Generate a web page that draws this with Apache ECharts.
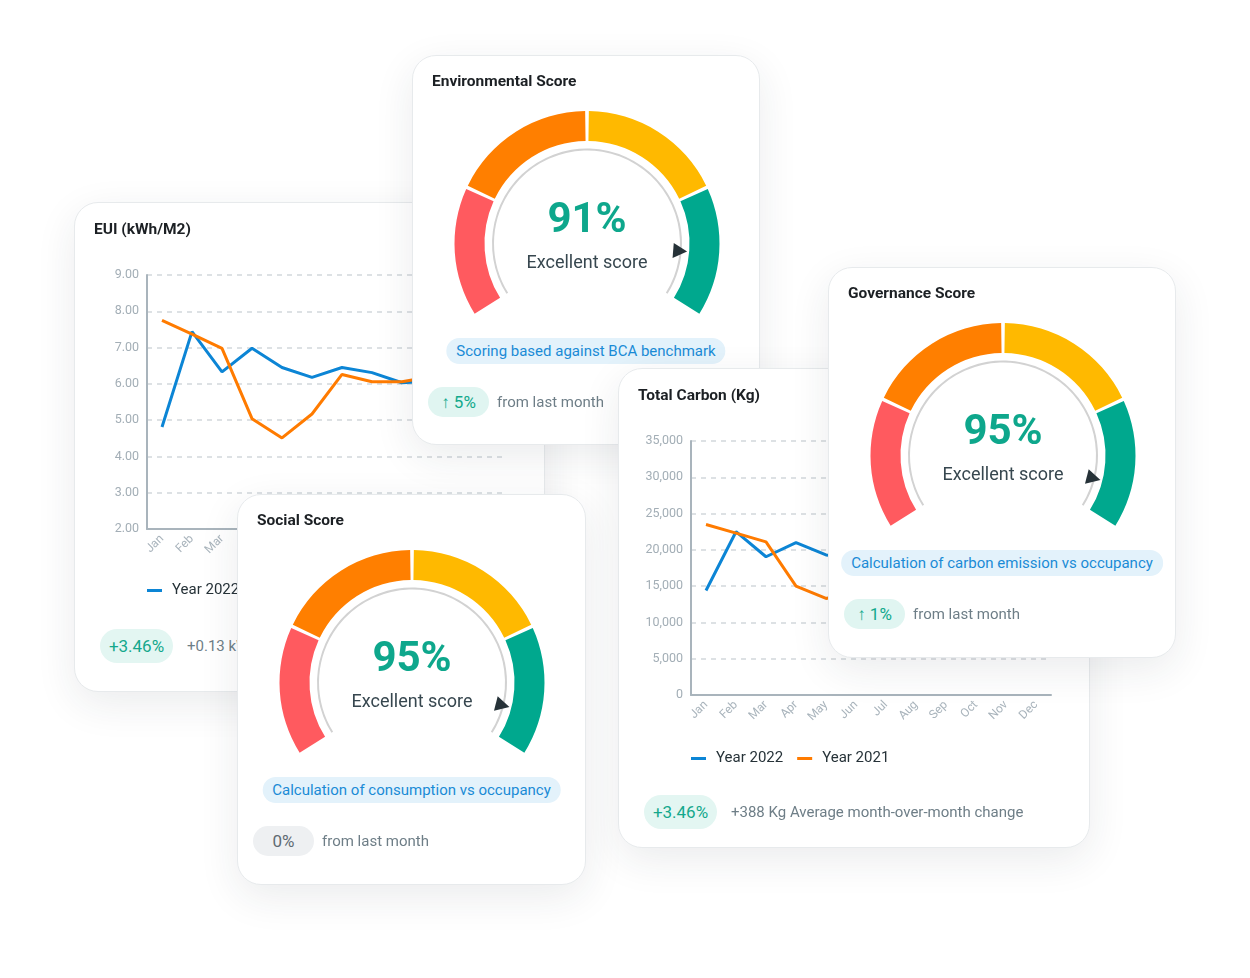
<!DOCTYPE html>
<html>
<head>
<meta charset="utf-8">
<script src="https://cdn.jsdelivr.net/npm/echarts@6/dist/echarts.min.js"></script>
<style>
  html, body { margin:0; padding:0; background:#ffffff; }
  body { width:1250px; height:978px; position:relative; overflow:hidden; font-family:Roboto, "Noto Sans", sans-serif; }
  .card { position:absolute; background:#fff; border:1px solid #e7eaec; border-radius:24px;
          box-shadow:0 12px 40px rgba(30,40,50,0.09); box-sizing:border-box; overflow:hidden; }
  .chart { position:absolute; left:0; top:0; }
  .chip { position:absolute; top:282px; left:50%; transform:translateX(-50%); height:26px; line-height:26px;
          padding:0 10px; border-radius:13px; background:#e3f2fb; color:#1a8bd6; font-size:15px; white-space:nowrap; }
  .pill { position:absolute; left:15px; top:331px; height:30px; line-height:30px; width:61px; text-align:center;
          border-radius:15px; background:#e0f5f1; color:#12a98c; font-size:17px; white-space:nowrap; }
  .pill.flat { background:#eef0f2; color:#5f6b72; }
  .note { position:absolute; left:84px; top:331px; line-height:30px; font-size:15px; color:#6e7e87; white-space:nowrap; }
  .fpill { position:absolute; left:25px; top:426px; height:34px; line-height:34px; width:73px; text-align:center;
           border-radius:17px; background:#e3f6f2; color:#14a88c; font-size:17px; }
  .fnote { position:absolute; left:112px; top:426px; line-height:34px; font-size:15px; color:#6e7e87; white-space:nowrap; }
</style>
</head>
<body>

<div class="card" id="card-eui" style="left:74px;top:202px;width:471px;height:490px;z-index:1">
  <div class="chart" id="c-eui" style="width:471px;height:420px"></div>
  <div class="fpill" id="eui-pill"></div>
  <div class="fnote" id="eui-note"></div>
</div>

<div class="card" id="card-env" style="left:412px;top:55px;width:348px;height:390px;z-index:2">
  <div class="chart" id="g-env" style="width:348px;height:320px"></div>
  <div class="chip" id="chip-env"></div>
  <div class="pill" id="pill-env"></div>
  <div class="note" id="note-env"></div>
</div>

<div class="card" id="card-carbon" style="left:618px;top:368px;width:472px;height:480px;z-index:3">
  <div class="chart" id="c-carbon" style="width:472px;height:420px"></div>
  <div class="fpill" id="carbon-pill"></div>
  <div class="fnote" id="carbon-note"></div>
</div>

<div class="card" id="card-gov" style="left:828px;top:267px;width:348px;height:391px;z-index:4">
  <div class="chart" id="g-gov" style="width:348px;height:320px"></div>
  <div class="chip" id="chip-gov"></div>
  <div class="pill" id="pill-gov"></div>
  <div class="note" id="note-gov"></div>
</div>

<div class="card" id="card-soc" style="left:237px;top:494px;width:349px;height:391px;z-index:3">
  <div class="chart" id="g-soc" style="width:349px;height:320px"></div>
  <div class="chip" id="chip-soc"></div>
  <div class="pill flat" id="pill-soc"></div>
  <div class="note" id="note-soc"></div>
</div>

<script>
// ---------- data ----------
const months = ['Jan','Feb','Mar','Apr','May','Jun','Jul','Aug','Sep','Oct','Nov','Dec'];
const legendNames = ['Year 2022', 'Year 2021'];

const euiYear2022 = [4.81, 7.44, 6.33, 6.98, 6.45, 6.18, 6.45, 6.31, 6.03, 6.08];
const euiYear2021 = [7.75, 7.37, 6.98, 5.04, 4.51, 5.17, 6.26, 6.06, 6.06, 6.20];
const euiYTicks = [2, 9, 1]; // min, max, step

const carbonYear2022 = [14400, 22500, 19050, 21000, 19300, 18900];
const carbonYear2021 = [23500, 22300, 21100, 15000, 13300, 14200];
const carbonYTicks = [0, 35000, 5000];

const lineTitles = ['EUI (kWh/M2)', 'Total Carbon (Kg)'];
const lineFooterPills = ['+3.46%', '+3.46%'];
const lineFooterNotes = ['+0.13 kWh/M2 Average month-over-month change', '+388 Kg Average month-over-month change'];

const scoreTitles = ['Environmental Score', 'Governance Score', 'Social Score'];
const scoreValues = [91, 95, 95];
const scoreLabels = ['Excellent score', 'Excellent score', 'Excellent score'];
const scoreChips = ['Scoring based against BCA benchmark', 'Calculation of carbon emission vs occupancy', 'Calculation of consumption vs occupancy'];
const scoreDeltas = ['\u2191 5%', '\u2191 1%', '0%'];
const scoreDeltaNotes = ['from last month', 'from last month', 'from last month'];
const bandStops = [0, 23.4, 50, 76.6, 100];

// ---------- styles ----------
const FONT = 'Roboto';
const BLUE = '#0c85d5', ORANGE = '#ff7b00';
const bandColors = ['#ff5a5f', '#ff7f00', '#ffb900', '#00a88e'];
const TEAL = '#0ea78c';

function lineOption(title, s2022, s2021, ticks, fmt, legendTop) {
  return {
    animation: false,
    title: { text: title, left: 14, top: 14,
      textStyle: { fontFamily: FONT, fontSize: 15.5, fontWeight: 'bold', color: '#1c2024' } },
    legend: { left: 67, top: legendTop, icon: 'rect', itemWidth: 15, itemHeight: 3, itemGap: 14,
      data: legendNames,
      textStyle: { fontFamily: FONT, fontSize: 15, color: '#263238', padding: [0, 0, 0, 5] } },
    grid: { left: 72, top: 72, width: 360, height: 254 },
    xAxis: { type: 'category', data: months, boundaryGap: true,
      axisLine: { lineStyle: { color: '#a9b4bc', width: 2 } },
      axisTick: { show: false },
      axisLabel: { rotate: 45, interval: 0, color: '#a9b4bc', fontFamily: FONT, fontSize: 12, margin: 8 } },
    yAxis: { type: 'value', min: ticks[0], max: ticks[1], interval: ticks[2],
      axisLine: { show: true, lineStyle: { color: '#a9b4bc', width: 2 } },
      axisTick: { show: false },
      axisLabel: { formatter: fmt, color: '#a3aeb6', fontFamily: FONT, fontSize: 12.5, margin: 8 },
      splitLine: { lineStyle: { type: [5, 5], color: '#d2d8dc', width: 1.5 } } },
    series: [
      { name: legendNames[0], type: 'line', data: s2022, showSymbol: false, smooth: false,
        lineStyle: { width: 3, color: BLUE }, itemStyle: { color: BLUE } },
      { name: legendNames[1], type: 'line', data: s2021, showSymbol: false, smooth: false,
        lineStyle: { width: 3, color: ORANGE }, itemStyle: { color: ORANGE } }
    ]
  };
}

const START = 212, END = -32, HALFGAP = 0.8;
function angleOf(v) { return START - (v / 100) * (START - END); }

function gaugeOption(title, value, label) {
  const center = [174, 187.5];
  const series = [];
  // thin inner arc
  series.push({ type: 'gauge', center, radius: 95, startAngle: START, endAngle: END,
    axisLine: { lineStyle: { width: 2, color: [[1, '#d2d2d2']] } },
    pointer: { show: false }, axisTick: { show: false }, splitLine: { show: false },
    axisLabel: { show: false }, detail: { show: false }, title: { show: false }, data: [] });
  // coloured bands
  for (let i = 0; i < bandColors.length; i++) {
    const a0 = angleOf(bandStops[i]) - (i === 0 ? 0 : HALFGAP);
    const a1 = angleOf(bandStops[i + 1]) + (i === bandColors.length - 1 ? 0 : HALFGAP);
    series.push({ type: 'gauge', center, radius: 132.5, startAngle: a0, endAngle: a1,
      axisLine: { lineStyle: { width: 30, color: [[1, bandColors[i]]] } },
      pointer: { show: false }, axisTick: { show: false }, splitLine: { show: false },
      axisLabel: { show: false }, detail: { show: false }, title: { show: false }, data: [] });
  }
  // pointer + value text
  series.push({ type: 'gauge', center, radius: 95, startAngle: START, endAngle: -26, min: 0, max: 100,
    axisLine: { show: false }, axisTick: { show: false }, splitLine: { show: false }, axisLabel: { show: false },
    anchor: { show: false }, title: { show: false },
    pointer: { icon: 'triangle', length: 14, width: 15, offsetCenter: [0, '-91%'], itemStyle: { color: '#263238' } },
    detail: { offsetCenter: [0, -3.5], fontWeight: 'normal', formatter: v => '{a|' + v + '%}\n{b|' + label + '}',
      rich: {
        a: { fontFamily: FONT, fontSize: 42, fontWeight: 'bold', color: TEAL, lineHeight: 46, align: 'center' },
        b: { fontFamily: FONT, fontSize: 18, fontWeight: 'normal', color: '#37474f', lineHeight: 38, align: 'center' }
      } },
    data: [{ value: value }] });
  return {
    animation: false,
    title: { text: title, left: 14, top: 13,
      textStyle: { fontFamily: FONT, fontSize: 15.5, fontWeight: 'bold', color: '#1c2024' } },
    series
  };
}

echarts.init(document.getElementById('c-eui')).setOption(
  lineOption(lineTitles[0], euiYear2022, euiYear2021, euiYTicks, v => v.toFixed(2), 375));
echarts.init(document.getElementById('c-carbon')).setOption(
  lineOption(lineTitles[1], carbonYear2022, carbonYear2021, carbonYTicks, v => v.toLocaleString('en-US'), 377));

const gaugeIds = ['env', 'gov', 'soc'];
gaugeIds.forEach((id, i) => {
  echarts.init(document.getElementById('g-' + id)).setOption(gaugeOption(scoreTitles[i], scoreValues[i], scoreLabels[i]));
  document.getElementById('chip-' + id).textContent = scoreChips[i];
  document.getElementById('pill-' + id).textContent = scoreDeltas[i];
  document.getElementById('note-' + id).textContent = scoreDeltaNotes[i];
});
document.getElementById('eui-pill').textContent = lineFooterPills[0];
document.getElementById('eui-note').textContent = lineFooterNotes[0];
document.getElementById('carbon-pill').textContent = lineFooterPills[1];
document.getElementById('carbon-note').textContent = lineFooterNotes[1];
</script>
</body>
</html>
